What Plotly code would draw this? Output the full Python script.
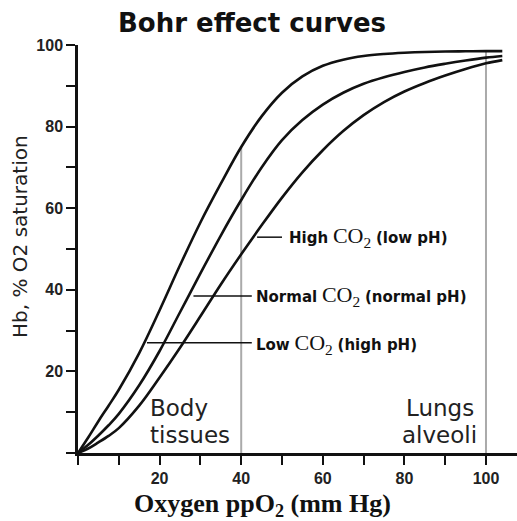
import plotly.graph_objects as go

# ---- data ----
po2 = [0, 2.5, 5, 7.5, 10, 15, 20, 25, 30, 35, 40, 45, 50, 55, 60, 65, 70, 75, 80, 85, 90, 95, 100, 104]
low_co2 = [0, 3.8, 7.8, 11.6, 15.5, 24.5, 35, 46, 56.5, 66, 75, 82.5, 88.3, 92.3, 94.9, 96.4, 97.3, 97.8, 98.1, 98.3, 98.4, 98.45, 98.5, 98.5]
normal_co2 = [0, 2, 4.3, 6.8, 9.6, 16.6, 25, 34.5, 44, 53.3, 62, 70, 76.7, 81.6, 85.4, 88.3, 90.5, 92.1, 93.4, 94.5, 95.4, 96.2, 96.9, 97.3]
high_co2 = [0, 1.1, 2.6, 4.2, 6.1, 11.6, 18.5, 25.8, 33.5, 41.3, 48.7, 55.8, 62.6, 68.8, 74.2, 78.9, 82.8, 86, 88.6, 90.7, 92.5, 94.1, 95.5, 96.3]
x_tick_vals = [0, 20, 40, 60, 80, 100]
x_tick_text = ["", "20", "40", "60", "80", "100"]
y_tick_vals = [0, 20, 40, 60, 80, 100]
y_tick_text = ["", "20", "40", "60", "80", "100"]
minor_vals = [10, 30, 50, 70, 90]
marker_po2 = [40, 100]  # body tissues, lungs alveoli

W, H = 517, 521
L, R, T, B = 78, 0, 45, 68
PX = (W - L - R) / 107.6  # px per mmHg

fig = go.Figure()
for ys in (low_co2, normal_co2, high_co2):
    fig.add_trace(go.Scatter(x=po2, y=ys, mode="lines", line=dict(color="#111", width=2.6, shape="spline", smoothing=1.0),
                             hoverinfo="skip", showlegend=False))

# grey reference lines from the top curve down to the axis
for xv in marker_po2:
    top = low_co2[po2.index(xv)]
    fig.add_shape(type="line", x0=xv, x1=xv, y0=0, y1=top, line=dict(color="#aaaaaa", width=2), layer="below")

# pointer lines
pointers = [((43.9, 50.0), 52.9), ((28.3, 42.6), 38.5), ((16.9, 42.6), 27.0)]
for (xa, xb), yv in pointers:
    fig.add_shape(type="line", x0=xa, x1=xb, y0=yv, y1=yv, line=dict(color="#111", width=1.5))

sans_b = "DejaVu Sans"
serif = "Liberation Serif"
co2 = f"<span style='font-family:{serif};font-weight:normal;font-size:22px'>CO<sub>2</sub></span>"
labels = [
    (51.2, 52.9, f"<b>High</b> {co2} <b>(low pH)</b>"),
    (43.1, 38.5, f"<b>Normal</b> {co2} <b>(normal pH)</b>"),
    (43.1, 26.6, f"<b>Low</b> {co2} <b>(high pH)</b>"),
]
for xv, yv, t in labels:
    fig.add_annotation(x=xv, y=yv, text=t, showarrow=False, xanchor="left", yanchor="middle",
                       font=dict(family=sans_b, size=15, color="#111"))

for xv, yv, t, anc in [(17.2, 11.0, "Body", "left"), (17.2, 4.4, "tissues", "left"),
                       (88.7, 11.0, "Lungs", "center"), (88.7, 4.4, "alveoli", "center")]:
    fig.add_annotation(x=xv, y=yv, text=t, showarrow=False, xanchor=anc, yanchor="middle",
                       font=dict(family="DejaVu Sans", size=23, color="#222"))

tick_family = "Liberation Sans, Arial"
# origin "0"
fig.add_annotation(x=-20 / PX, y=-24 / 4.08, text="0", showarrow=False, xanchor="center", yanchor="middle",
                   font=dict(family=tick_family, size=16, color="#222", weight="bold"))

# titles
fig.add_annotation(xref="paper", yref="paper", x=(262 - L) / (W - L - R), y=(453 - 505) / 408,
                   text="<b>Oxygen ppO<sub>2</sub> (mm Hg)</b>", showarrow=False, xanchor="center", yanchor="middle",
                   font=dict(family=serif, size=26, color="#111"))
fig.add_annotation(xref="paper", yref="paper", x=(20 - L) / (W - L - R), y=(453 - 237) / 408,
                   text="Hb, % O2 saturation", textangle=-90, showarrow=False, xanchor="center", yanchor="middle",
                   font=dict(family="DejaVu Sans", size=20, color="#222"))

axis_font = dict(family=tick_family, size=16, color="#222", weight="bold")
fig.update_layout(
    width=W, height=H, margin=dict(l=L, r=R, t=T, b=B),
    paper_bgcolor="white", plot_bgcolor="white",
    title=dict(text="<b>Bohr effect curves</b>", x=252 / W, xref="container", xanchor="center",
               y=1 - 23 / H, yref="container", yanchor="middle",
               font=dict(family="DejaVu Sans", size=26, color="#111")),
    xaxis=dict(range=[0, 107.6], automargin=False, showgrid=False, zeroline=False, showline=True, linecolor="#111", linewidth=2.5,
               tickmode="array", tickvals=x_tick_vals, ticktext=x_tick_text, ticks="outside", ticklen=9,
               tickwidth=2, tickcolor="#111", tickfont=axis_font,
               minor=dict(tickmode="array", tickvals=minor_vals, ticks="outside", ticklen=9, tickwidth=2, tickcolor="#111")),
    yaxis=dict(range=[0, 100], automargin=False, showgrid=False, zeroline=False, showline=True, linecolor="#111", linewidth=2.5,
               tickmode="array", tickvals=y_tick_vals, ticktext=y_tick_text, ticks="outside", ticklen=9,
               tickwidth=2, tickcolor="#111", tickfont=axis_font,
               minor=dict(tickmode="array", tickvals=minor_vals, ticks="outside", ticklen=9, tickwidth=2, tickcolor="#111")),
)
fig.write_html("out.html", config={"displayModeBar": False}, post_script="document.body.style.margin='0';")
